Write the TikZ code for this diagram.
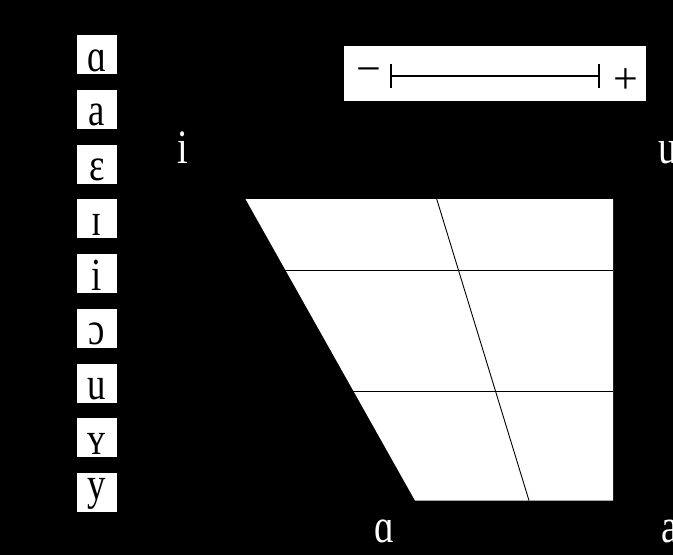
\documentclass[tikz,border=0pt]{standalone}
\usepackage{fontspec}
\setmainfont{Liberation Serif}
\usetikzlibrary{calc}
\tikzset{
  lbox/.style={fill=white, draw=none, minimum width=40pt, minimum height=39pt, inner sep=0pt},
  lchar/.style={inner sep=0pt, text=black, font=\fontsize{46}{50}\selectfont},
  olabel/.style={inner sep=0pt, text=white, font=\fontsize{48}{52}\selectfont, anchor=base},
  gridline/.style={draw=black, line width=0.9pt},
  legline/.style={draw=black, line width=1.1pt},
  legsym/.style={inner sep=0pt, text=black, font=\fontsize{44}{48}\selectfont}
}
\newcommand{\narrow}[1]{\scalebox{0.8}[1]{#1}}
\begin{document}
\begin{tikzpicture}[x=1pt,y=-1pt]
  \fill[black] (0,0) rectangle (673,555);
  \useasboundingbox (0,0) rectangle (673,555);
  % left letter boxes
  \foreach \ch [count=\k] in {ɑ,a,ɛ,ɪ,i,ɔ,u,ʏ,y} {
    \pgfmathsetmacro\btop{35+(\k-1)*54.75}
    \node[lbox] (box\k) at (97,\btop+19.5) {};
    \node[lchar, anchor=south] (ch\k) at ([yshift=2.5pt]box\k.south) {\narrow{\ch}};
  }
  % legend
  \node[fill=white, minimum width=302pt, minimum height=55pt, inner sep=0pt] (legend) at (495,73.5) {};
  \coordinate (barL) at (391,76);
  \coordinate (barR) at (599,76);
  \draw[legline] (barL) -- (barR);
  \draw[legline] ([yshift=12pt]barL) -- ([yshift=-12pt]barL);
  \draw[legline] ([yshift=12pt]barR) -- ([yshift=-12pt]barR);
  \node[legsym] (minus) at (369,76) {−};
  \node[legsym] (plus) at (626,81) {+};
  % vowel quadrilateral
  \coordinate (TL) at (245.5,199);
  \coordinate (TR) at (613,199);
  \coordinate (BR) at (613,500.5);
  \coordinate (BL) at (415,500.5);
  \fill[white] (TL) -- (TR) -- (BR) -- (BL) -- cycle;
  \draw[gridline] ($(TL)!0.2355!(BL)$) -- ($(TR)!0.2355!(BR)$);
  \draw[gridline] ($(TL)!0.6368!(BL)$) -- ($(TR)!0.6368!(BR)$);
  \draw[gridline] (436.7,199) -- (529,500.5);
  % outer labels
  \node[olabel] (li) at (183,163) {\narrow{i}};
  \node[olabel] (lu) at (668,163) {\narrow{u}};
  \node[olabel] (lA) at (385,542) {\narrow{ɑ}};
  \node[olabel] (la) at (670,542) {\narrow{a}};
\end{tikzpicture}
\end{document}
